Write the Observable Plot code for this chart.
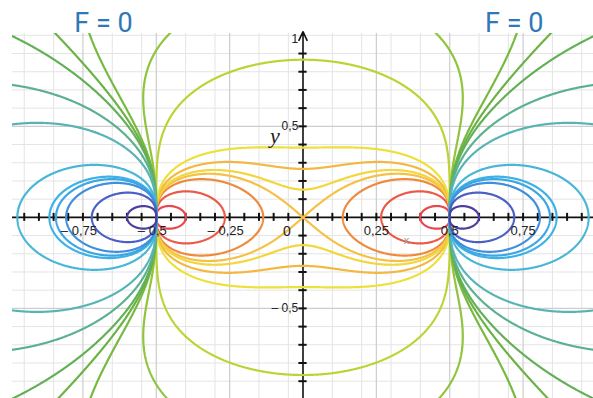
<!DOCTYPE html>
<html><head><meta charset="utf-8">
<script src="https://cdn.jsdelivr.net/npm/d3@7"></script>
<script src="https://cdn.jsdelivr.net/npm/@observablehq/plot@0.6"></script>
<style>body{margin:0;background:#fff;overflow:hidden}</style>
</head><body><div id="chart"></div>
<script>
// Charges +1 at (0.5, 0) and -1 at (-0.5, 0); F = x-component of the field
const chargePos = 0.5;
// contour levels (x-axis / y-axis crossings)
const levels = [-100, -20, -10, -8, -7, -5.5, -4, -1, -0.4, -0.1, 0, 0.1, 0.4, 1, 4, 7, 8, 10, 20, 100];
const levelColors = ["#e8474e", "#ea5a48", "#ef8a3c", "#f5c043", "#f2d63c", "#f4b842", "#ece03a", "#bdd334", "#8fc43c", "#76b93f",
                     "#69b243", "#62b056", "#5bb08f", "#58b4b4", "#48b6d6", "#3cb1e6", "#3aa6e4", "#3f8fdc", "#4a60c6", "#4c3f9e"];
const xMinorTicks = [-0.95,-0.9,-0.85,-0.8,-0.75,-0.7,-0.65,-0.6,-0.55,-0.5,-0.45,-0.4,-0.35,-0.3,-0.25,-0.2,-0.15,-0.1,-0.05,
                     0.05,0.1,0.15,0.2,0.25,0.3,0.35,0.4,0.45,0.5,0.55,0.6,0.65,0.7,0.75,0.8,0.85,0.9,0.95];
const yMinorTicks = [-0.9,-0.8,-0.7,-0.6,-0.5,-0.4,-0.3,-0.2,-0.1,0.1,0.2,0.3,0.4,0.5,0.6,0.7,0.8,0.9];
const gridXLight = [-0.95,-0.85,-0.65,-0.55,-0.4,-0.3,-0.15,-0.05,0.1,0.2,0.3,0.4,0.6,0.7,0.85,0.95];
const gridXDark = [-0.75,-0.5,-0.25,0.25,0.5,0.75];
const gridYLight = [-0.9,-0.8,-0.7,-0.6,-0.4,-0.3,-0.2,-0.1,0.1,0.2,0.3,0.4,0.6,0.7,0.8,0.9,1.0];
const gridYDark = [-0.5,0.5];
const xLabelsNeg = [-0.75, -0.5, -0.25];
const xLabelsPos = [0.25, 0.5, 0.75];
const yLabels = [1, 0.5, -0.5];
const fmt = d => (d < 0 ? "\u2013 " : "") + String(Math.abs(d)).replace(".", ",");

function fieldX(x, y) {
  const a = x - chargePos, b = x + chargePos, y2 = y * y;
  return a / Math.pow(a * a + y2, 1.5) - b / Math.pow(b * b + y2, 1.5);
}

const chart = Plot.plot({
  width: 593, height: 398,
  marginLeft: 12, marginRight: 0, marginTop: 33, marginBottom: 0,
  x: {domain: [-0.99, 0.99], axis: null},
  y: {domain: [-0.995, 1.01], axis: null},
  color: {type: "ordinal", domain: levels, range: levelColors},
  style: {background: "white"},
  marks: [
    Plot.ruleX(gridXLight, {x: d => d, stroke: "#e4e4e4", strokeWidth: 1}),
    Plot.ruleY(gridYLight, {y: d => d, stroke: "#e4e4e4", strokeWidth: 1}),
    Plot.ruleX(gridXDark, {x: d => d, stroke: "#cdcdcd", strokeWidth: 1.2}),
    Plot.ruleY(gridYDark, {y: d => d, stroke: "#cdcdcd", strokeWidth: 1.2}),
    Plot.ruleY([0], {stroke: "#111", strokeWidth: 1.6}),
    Plot.arrow([0], {x1: 0, x2: 0, y1: -0.995, y2: 1.02, stroke: "#111", strokeWidth: 1.6, headLength: 9, headAngle: 50}),
    Plot.ruleX(xMinorTicks, {x: d => d, y1: -0.022, y2: 0.022, stroke: "#111", strokeWidth: 2}),
    Plot.ruleY(yMinorTicks, {y: d => d, x1: -0.014, x2: 0.014, stroke: "#111", strokeWidth: 2}),
    Plot.contour({
      x1: -1.3, x2: 1.3, y1: -1.3, y2: 1.3, width: 1100, height: 1100,
      value: (x, y) => fieldX(x, y),
      stroke: "value",
      thresholds: levels,
      strokeWidth: 2.2,
      clip: true
    }),
    Plot.text(xLabelsNeg, {x: d => d, y: -0.072, text: fmt, dx: -4, fontSize: 13, fill: "#222", fontFamily: "Liberation Sans, Arial, sans-serif"}),
    Plot.text(xLabelsPos, {x: d => d, y: -0.072, text: fmt, fontSize: 13, fill: "#222", fontFamily: "Liberation Sans, Arial, sans-serif"}),
    Plot.text([0], {x: -0.055, y: -0.078, text: d => "0", fontSize: 14, fill: "#222", fontFamily: "Liberation Sans, Arial, sans-serif"}),
    Plot.text(yLabels, {x: -0.016, y: d => d === 1 ? 0.98 : d, text: fmt, textAnchor: "end", fontSize: 12, fill: "#222", fontFamily: "Liberation Sans, Arial, sans-serif"}),
    Plot.text(["y"], {x: -0.096, y: 0.445, text: d => d, fontSize: 22, fontStyle: "italic", fill: "#222", fontFamily: "Liberation Serif, serif"}),
    Plot.text(["x"], {x: 0.353, y: -0.126, text: d => d, fontSize: 11, fill: "#999", fontFamily: "Liberation Sans, sans-serif"}),
    Plot.text(["F = 0", "F = 0"], {x: [-0.68, 0.72], y: 1.065, text: d => d, fontSize: 27, fill: "#2f78b7", fontFamily: "Roboto, sans-serif"})
  ]
});
document.getElementById("chart").appendChild(chart);
</script>
</body></html>
